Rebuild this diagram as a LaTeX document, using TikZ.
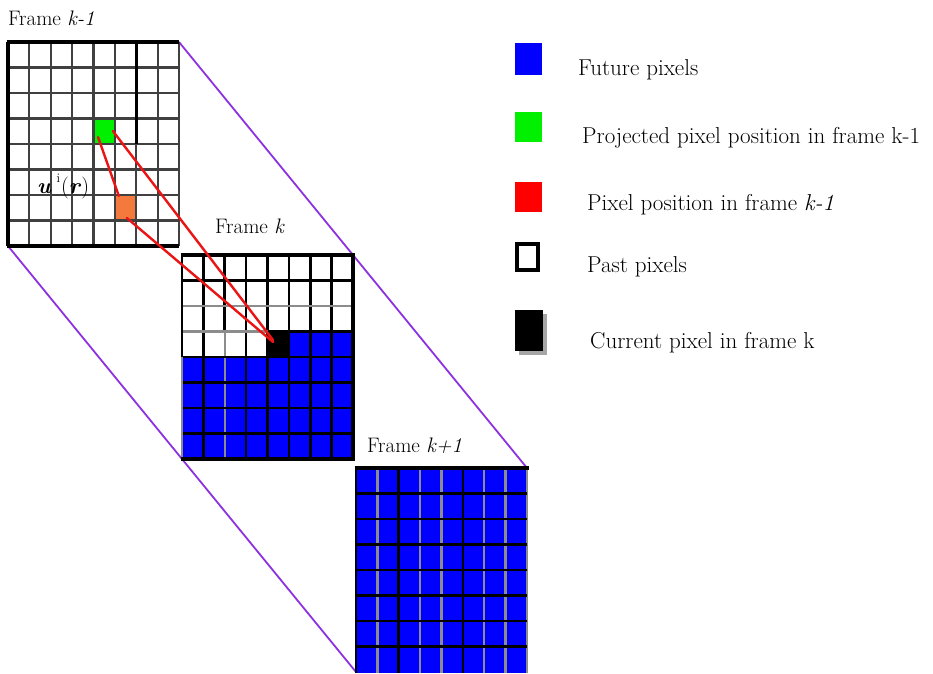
\documentclass[tikz,border=0pt]{standalone}
\usepackage{fontspec}
\begin{document}
\definecolor{pixblue}{RGB}{0,0,255}
\definecolor{pixgreen}{RGB}{0,240,0}
\definecolor{pixorange}{RGB}{244,121,60}
\definecolor{pixred}{RGB}{255,0,0}
\definecolor{linkred}{RGB}{235,20,20}
\definecolor{violetline}{RGB}{140,50,225}
\begin{tikzpicture}[x=1pt,y=-1pt,
  framenode/.style={minimum width=171pt,minimum height=204pt,inner sep=0pt,outer sep=0pt,anchor=north west},
  cellnode/.style={minimum width=21.375pt,minimum height=25.5pt,inner sep=0pt,outer sep=0pt},
  gridA/.style={black!75,line width=2.1pt},
  gridB/.style={black,line width=2.6pt},
  gridG/.style={black!45,line width=2.3pt},
  borderA/.style={black,line width=3.2pt},
  purpleline/.style={violetline,line width=1.8pt},
  redline/.style={linkred,line width=2.4pt,line cap=round},
  framelabel/.style={font=\fontsize{21}{23}\selectfont,inner sep=0pt,anchor=base west},
  legendtext/.style={font=\fontsize{23}{27}\selectfont,inner sep=0pt,anchor=base west},
  legendbox/.style={inner sep=0pt,outer sep=0pt,anchor=north west}]
\useasboundingbox (0,0) rectangle (933,673);
\fill[white] (0,0) rectangle (933,673);

% frames
\node[framenode] (f1) at (8,42) {};
\node[framenode] (f2) at (182,255) {};
\node[framenode] (f3) at (356,468) {};

% connecting parallelogram
\draw[purpleline] (f1.north east) -- (f3.north east);
\draw[purpleline] (f1.south west) -- (f3.south west);

% ---------- frame k-1 ----------
\node[cellnode,fill=pixgreen] (gcell) at ({8+4.5*21.375},{42+3.5*25.5}) {};
\node[cellnode,fill=pixorange] (ocell) at ({8+5.5*21.375},{42+6.5*25.5}) {};
\foreach \i in {1,...,8} \draw[gridA] ({8+\i*21.375},42) -- ({8+\i*21.375},246);
\foreach \j in {1,...,7} \draw[gridA] (8,{42+\j*25.5}) -- (179,{42+\j*25.5});
\draw[borderA] (8,42) -- (8,246);
\draw[borderA] (6.5,42) -- (179,42);
\draw[borderA] (6.5,246) -- (179,246);
\draw[borderA] ({8+6*21.375},42) -- ({8+6*21.375},144);
\node[font=\fontsize{22}{24}\selectfont,inner sep=0pt,anchor=base west] (ulab) at (37,193)
  {\textbf{\textit{u}}\kern5pt\raisebox{0.5em}{\fontsize{13}{13}\selectfont i}\kern1pt(\textbf{\textit{r}})};

% ---------- frame k ----------
\fill[pixblue] (182,357) rectangle (353,459);
\fill[pixblue] ({182+5*21.375},331.5) rectangle (353,357);
\node[cellnode,fill=black] (ccell) at ({182+4.5*21.375},{255+3.5*25.5}) {};
\foreach \i in {1,3,4,5,6,7} \draw[gridB] ({182+\i*21.375},255) -- ({182+\i*21.375},459);
\draw[gridB] ({182+2*21.375},255) -- ({182+2*21.375},331.5);
\draw[gridG] ({182+2*21.375},331.5) -- ({182+2*21.375},459);
\foreach \j in {1,4,5,6,7} \draw[gridB] (182,{255+\j*25.5}) -- (353,{255+\j*25.5});
\draw[gridG] (182,{255+2*25.5}) -- (353,{255+2*25.5});
\draw[gridG] (182,{255+3*25.5}) -- ({182+4*21.375},{255+3*25.5});
\draw[gridB] ({182+4*21.375},{255+3*25.5}) -- (353,{255+3*25.5});
\draw[gridB] (182,255) -- (182,357);
\draw[gridG] (182,357) -- (182,459);
\draw[borderA] (180.5,255) -- (354.5,255);
\draw[borderA] (353,255) -- (353,459);
\draw[borderA] (180.5,459) -- (354.5,459);

% ---------- frame k+1 ----------
\fill[pixblue] (356,468) rectangle (527,673);
\foreach \i in {1,3,4,6,7,8} \draw[gridG] ({356+\i*21.375},468) -- ({356+\i*21.375},673);
\foreach \i in {0,2,5} \draw[gridB] ({356+\i*21.375},468) -- ({356+\i*21.375},673);
\foreach \j in {1,...,7} \draw[gridB] (356,{468+\j*25.5}) -- (527,{468+\j*25.5});
\draw[borderA] (354.5,468) -- (528.5,468);

% ---------- motion lines ----------
\draw[redline] ([shift={(4.5,-7)}]gcell.south west) -- ([shift={(4,1)}]ocell.north west);
\draw[redline] ([shift={(-2,12.5)}]gcell.north east) -- ([shift={(5.5,8.5)}]ccell.north west);
\draw[redline] ([shift={(12,-2.5)}]ocell.south west) -- ([shift={(5.5,10.5)}]ccell.north west);

% ---------- labels ----------
\node[framelabel] (l1) at (8,25) {Frame \textit{k-1}};
\node[framelabel] (l2) at (215,233) {Frame \textit{k}};
\node[framelabel] (l3) at (367,452) {Frame \textit{k+1}};

% ---------- legend ----------
\node[legendbox,fill=pixblue,minimum width=27pt,minimum height=32pt] (lg1) at (515,43) {};
\node[legendbox,fill=pixgreen,minimum width=27pt,minimum height=30pt] (lg2) at (515,112) {};
\node[legendbox,fill=pixred,minimum width=27pt,minimum height=30pt] (lg3) at (515,182) {};
\node[legendbox,draw=black,line width=3.8pt,minimum width=21pt,minimum height=26pt] (lg4) at (517,244) {};
\fill[black!35] (518.5,313.5) rectangle (546.5,354.5);
\node[legendbox,fill=black,minimum width=28pt,minimum height=41pt] (lg5) at (515,310) {};

\node[legendtext] (t1) at (578,75) {Future pixels};
\node[legendtext] (t2) at (582,143) {Projected pixel position in frame k-1};
\node[legendtext] (t3) at (587,210) {Pixel position in frame \textit{k-1}};
\node[legendtext] (t4) at (587,272) {Past pixels};
\node[legendtext] (t5) at (590,348) {Current pixel in frame k};
\end{tikzpicture}
\end{document}
